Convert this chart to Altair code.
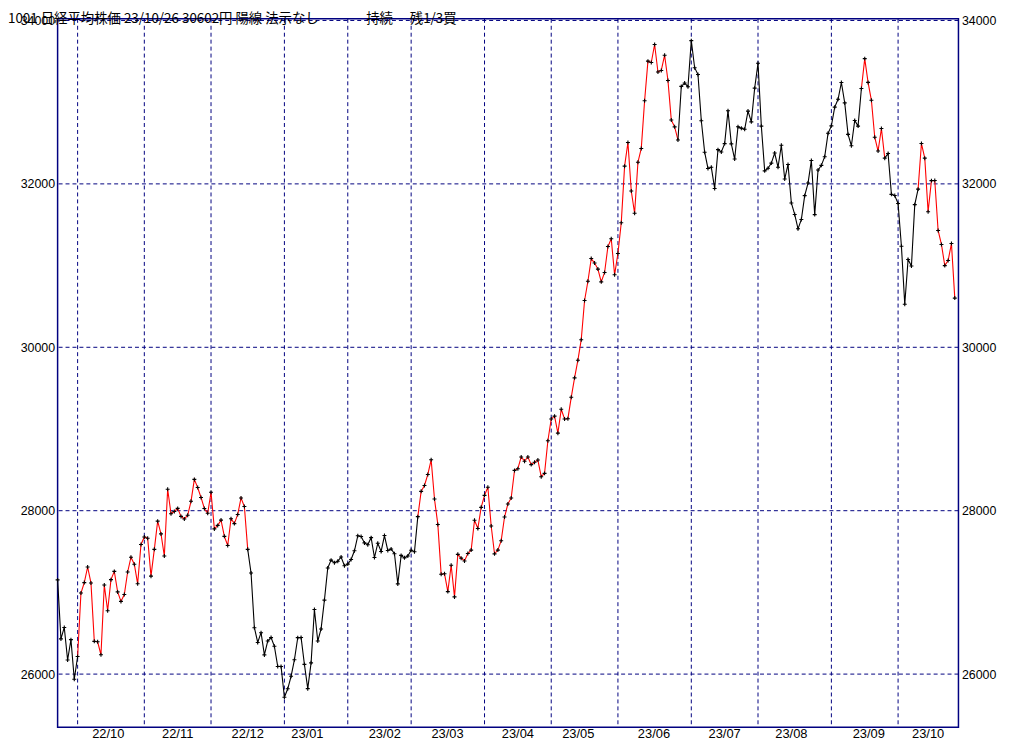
import altair as alt
import pandas as pd

# ---------------- data (daily closes, grouped by month) ----------------
month_names = ["22/09", "22/10", "22/11", "22/12", "23/01", "23/02", "23/03",
               "23/04", "23/05", "23/06", "23/07", "23/08", "23/09", "23/10"]

sep22 = [27153, 26431, 26571, 26173, 26422, 25937]
oct22 = [26215, 26992, 27120, 27311, 27116, 26401, 26396, 26237, 27090, 26775,
         27156, 27257, 27006, 26890, 26974, 27250, 27431, 27345, 27105, 27587]
nov22 = [27678, 27663, 27199, 27527, 27872, 27716, 27446, 28263, 27963, 27990,
         28028, 27930, 27899, 27944, 28115, 28383, 28283, 28162, 28027, 27968]
dec22 = [28226, 27777, 27820, 27885, 27686, 27574, 27901, 27842, 27954, 28156,
         28051, 27527, 27237, 26568, 26387, 26507, 26235, 26405, 26447, 26340,
         26093, 26094]
jan23 = [25717, 25820, 25973, 26175, 26446, 26449, 26119, 25822, 26138, 26791,
         26405, 26553, 26906, 27299, 27395, 27362, 27382, 27433, 27327]
feb23 = [27346, 27402, 27509, 27693, 27685, 27606, 27584, 27670, 27427, 27602,
         27501, 27696, 27513, 27531, 27473, 27104, 27453, 27423, 27445]
mar23 = [27516, 27498, 27927, 28237, 28309, 28444, 28623, 28143, 27832, 27222,
         27229, 27010, 27333, 26945, 27466, 27419, 27385, 27476, 27518, 27883,
         27782, 28041]
apr23 = [28188, 28287, 27813, 27472, 27518, 27633, 27923, 28082, 28156, 28493,
         28514, 28658, 28606, 28657, 28564, 28593, 28620, 28416, 28457, 28856]
may23 = [29123, 29157, 28949, 29242, 29122, 29126, 29388, 29626, 29842, 30093,
         30573, 30808, 31086, 31031, 30957, 30801, 30916, 31233, 31328, 30887]
jun23 = [31148, 31524, 32217, 32506, 31913, 31641, 32265, 32434, 33018, 33502,
         33485, 33706, 33370, 33388, 33575, 33265, 32781, 32698, 32538, 33193,
         33234, 33189]
jul23 = [33753, 33422, 33338, 32773, 32388, 32189, 32203, 31943, 32419, 32391,
         32493, 32896, 32490, 32304, 32700, 32682, 32668, 32891, 32759, 33172]
aug23 = [33476, 32707, 32159, 32192, 32254, 32377, 32204, 32473, 32059, 32238,
         31766, 31626, 31450, 31565, 31856, 32010, 32287, 31624, 32169, 32227,
         32333, 32619]
sep23 = [32710, 32939, 33036, 33241, 32991, 32606, 32467, 32776, 32707, 33168,
         33533, 33242, 33023, 32571, 32402, 32678, 32315, 32372, 31872, 31857]
oct23 = [31759, 31237, 30526, 31075, 30994, 31746, 31936, 32494, 32315, 31659,
         32040, 32042, 31430, 31259, 31000, 31062, 31270, 30602]

monthly_closes = [sep22, oct22, nov22, dec22, jan23, feb23, mar23,
                  apr23, may23, jun23, jul23, aug23, sep23, oct23]

# trading-day index where each signal regime begins, and its state
regime_start_day = [0, 6, 57, 108, 186, 241, 248, 258]
regime_state = ["flat", "hold", "flat", "hold", "flat", "hold", "flat", "hold"]

# trading-day position of each month label (22/10 .. 23/10)
label_day = [15.2, 36.0, 57.0, 74.9, 98.1, 116.9, 138.0, 156.1,
             178.8, 200.0, 220.0, 243.2, 261.0]

y_ticks = [26000, 28000, 30000, 32000, 34000]

title_parts = ["1001 日経平均株価 23/10/26 30602円 陽線 法示なし", "持続", "残1/3買"]

# ---------------- tables ----------------
rows = []
month_start = []
i = 0
for name, vals in zip(month_names, monthly_closes):
    month_start.append(i)
    for v in vals:
        rows.append({"day": i, "close": v})
        i += 1
prices = pd.DataFrame(rows)
last = len(prices) - 1

seg_rows = []
for k, (s, st) in enumerate(zip(regime_start_day, regime_state)):
    e = regime_start_day[k + 1] if k + 1 < len(regime_start_day) else last
    for d in range(s, e + 1):
        seg_rows.append({"day": d, "close": int(prices.loc[d, "close"]), "grp": k, "state": st})
segs = pd.DataFrame(seg_rows)

vgrid = pd.DataFrame({"day": month_start[1:]})
hgrid = pd.DataFrame({"v": y_ticks})
mlabels = pd.DataFrame({"day": label_day, "text": month_names[1:]})

# ---------------- layout ----------------
W, H = 908, 714
NAVY = "#000080"
FONT = "Liberation Sans"
xs = alt.Scale(domain=[0, 270.1], nice=False, zero=False)
ys = alt.Scale(domain=[25350, 34020], nice=False, zero=False)

X = alt.X("day:Q", scale=xs, axis=None)

grid_v = alt.Chart(vgrid).mark_rule(color=NAVY, strokeDash=[4, 3], strokeWidth=1).encode(x=X)
grid_h = alt.Chart(hgrid).mark_rule(color=NAVY, strokeDash=[4, 3], strokeWidth=1).encode(
    y=alt.Y("v:Q", scale=ys, axis=None))

axis_common = dict(title=None, values=y_ticks, format="d", grid=False, domain=False,
                   ticks=False, labelFont=FONT, labelFontSize=12.5, labelColor="black",
                   labelBaseline="middle", labelFlush=False, labelOverlap=False,
                   labelPadding=3)

line = alt.Chart(segs).mark_line(strokeWidth=1.1, interpolate="linear").encode(
    x=X,
    y=alt.Y("close:Q", scale=ys, axis=alt.Axis(orient="left", **axis_common)),
    color=alt.Color("state:N", scale=alt.Scale(domain=["hold", "flat"],
                                                range=["#FF0000", "#000000"]), legend=None),
    detail="grp:N",
)

pts = alt.Chart(prices).mark_point(
    shape="M-1,0L1,0M0,-1L0,1", size=16, filled=False, color="black",
    strokeWidth=1.1, opacity=1,
).encode(
    x=X,
    y=alt.Y("close:Q", scale=ys, axis=alt.Axis(orient="right", **axis_common)),
)

mtext = alt.Chart(mlabels).mark_text(font=FONT, fontSize=13, color="black",
                                     align="center", baseline="middle").encode(
    x=X,
    y=alt.value(H + 7),
    text="text:N",
)

# title pieces (x in plot coordinates: page x minus 58)
title_layers = []
for txt, px in zip(title_parts, [-50, 311, 355]):
    title_layers.append(
        alt.Chart(pd.DataFrame({"t": [txt]})).mark_text(
            font="Noto Sans CJK JP", fontSize=13.5, color="black",
            align="left", baseline="alphabetic").encode(
            x=alt.value(px), y=alt.value(4.5), text="t:N")
    )

chart = alt.layer(grid_v, grid_h, line, pts, mtext, *title_layers).resolve_scale(
    y="shared").resolve_axis(y="independent").properties(
    width=W, height=H,
    autosize=alt.AutoSizeParams(type="none"),
    padding={"left": 50, "top": 8, "right": 58, "bottom": 15},
    background="white",
).configure_view(stroke=NAVY, strokeWidth=1.5)

chart.save("out.html", embed_options={"renderer": "svg", "actions": False})
